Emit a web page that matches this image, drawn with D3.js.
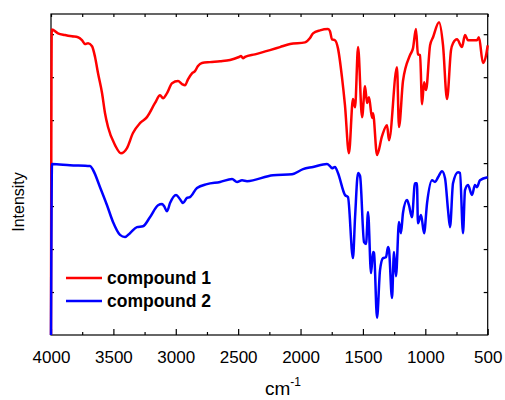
<!DOCTYPE html>
<html><head><meta charset="utf-8">
<script src="https://cdn.jsdelivr.net/npm/d3@7"></script>
<style>body{margin:0;background:#fff}svg{display:block}text{font-family:Arial,"Liberation Sans",sans-serif}</style>
</head><body><svg id="c" width="505" height="400"></svg>
<script>
// wavenumber (cm-1) and relative intensity (arbitrary units)
const compound1 = [
[4000,0],[3994,7.11],[3944,7.02],[3888,6.98],[3832,6.95],[3784,6.93],[3752,6.86],[3727,6.77],[3703,6.79],[3671,6.72],
[3647,6.47],[3623,6.09],[3591,5.63],[3567,5.16],[3543,4.84],[3487,4.42],[3439,4.23],[3391,4.35],[3343,4.70],[3287,4.93],
[3231,5.07],[3166,5.40],[3126,5.58],[3102,5.51],[3070,5.63],[3030,5.86],[2982,5.91],[2950,5.84],[2926,5.81],[2902,5.95],
[2870,6.09],[2846,6.14],[2822,6.26],[2790,6.33],[2726,6.35],[2645,6.37],[2565,6.40],[2493,6.47],[2477,6.49],[2461,6.44],
[2445,6.47],[2365,6.53],[2245,6.63],[2165,6.70],[2084,6.77],[1964,6.81],[1924,6.91],[1900,7.02],[1844,7.09],[1780,7.12],
[1764,7.07],[1748,6.88],[1724,6.86],[1700,6.67],[1668,6.00],[1644,5.35],[1612,4.23],[1580,5.49],[1563,5.30],[1539,6.70],
[1507,5.07],[1483,5.79],[1467,5.40],[1451,5.53],[1427,5.05],[1419,5.16],[1387,4.19],[1347,4.63],[1307,4.88],[1291,4.53],
[1227,6.23],[1211,4.84],[1179,5.91],[1123,6.51],[1099,6.67],[1075,7.12],[1059,6.53],[1042,6.51],[1026,5.37],[1010,5.88],
[994,5.70],[962,6.74],[938,6.93],[890,7.28],[858,6.74],[826,5.49],[794,6.63],[778,6.79],[746,6.88],[706,6.70],
[682,6.98],[658,6.86],[586,6.86],[570,6.93],[538,6.33],[513,6.51],[500,6.74]
];
const compound2 = [
[4000,0],[3992,3.98],[3848,3.95],[3687,3.93],[3663,3.84],[3607,3.44],[3551,3.02],[3503,2.63],[3447,2.33],[3407,2.28],
[3367,2.37],[3311,2.51],[3263,2.53],[3207,2.74],[3142,3.02],[3110,3.05],[3094,3.00],[3070,2.88],[3046,3.07],[2998,3.26],
[2966,3.16],[2942,3.07],[2910,3.19],[2886,3.21],[2830,3.42],[2750,3.51],[2645,3.56],[2549,3.63],[2509,3.56],[2469,3.60],
[2429,3.58],[2221,3.72],[2068,3.74],[1980,3.86],[1900,3.91],[1788,3.98],[1764,3.93],[1748,3.88],[1724,3.91],[1700,3.77],
[1644,3.26],[1620,3.21],[1580,1.79],[1563,2.74],[1539,3.77],[1523,3.70],[1491,2.16],[1475,2.12],[1459,2.86],[1435,1.44],
[1419,1.93],[1411,1.91],[1387,0.40],[1363,1.51],[1339,1.79],[1315,1.81],[1299,2.05],[1291,1.98],[1267,0.86],[1251,1.93],
[1235,1.37],[1211,2.63],[1195,2.37],[1179,2.84],[1147,3.14],[1131,3.02],[1107,2.74],[1083,3.53],[1067,3.53],[1059,2.60],
[1034,2.79],[1010,2.37],[986,3.07],[946,3.60],[922,3.56],[898,3.67],[866,3.81],[842,3.65],[818,2.91],[802,2.51],
[778,3.53],[738,3.79],[722,3.77],[698,2.37],[682,3.37],[658,3.49],[626,3.26],[602,3.49],[586,3.44],[562,3.60],[500,3.67]
];
const seriesNames = ["compound 1","compound 2"];
const seriesColors = ["#ff0000","#0000ff"];
const xTicks = [4000,3500,3000,2500,2000,1500,1000,500];
const xMinorTicks = [3750,3250,2750,2250,1750,1250,750];
const yTicks = [1,2,3,4,5,6,7];
const xLabel = "cm";
const xLabelSup = "-1";
const yLabel = "Intensity";

const svg = d3.select("#c");
const L=51, R=487.7, T=14, B=335;
const x = d3.scaleLinear().domain([4000,500]).range([L,R]);
const y = d3.scaleLinear().domain([0,7.47]).range([B,T]);

// frame
svg.append("rect").attr("x",L).attr("y",T).attr("width",R-L).attr("height",B-T)
 .attr("fill","none").attr("stroke","#000").attr("stroke-width",1.2);

// bottom axis: major ticks inward + labels
const axB = svg.append("g").attr("transform",`translate(0,${B})`)
 .call(d3.axisBottom(x).tickValues(xTicks).tickSize(-6).tickPadding(16).tickFormat(d3.format("d")));
axB.select(".domain").remove();
axB.selectAll("text").attr("font-size",17).attr("fill","#000").attr("font-family","Arial, 'Liberation Sans', sans-serif");
axB.selectAll("line").attr("stroke","#000").attr("stroke-width",1.2);
const axBm = svg.append("g").attr("transform",`translate(0,${B})`)
 .call(d3.axisBottom(x).tickValues(xMinorTicks).tickSize(-3).tickFormat(""));
axBm.select(".domain").remove();
axBm.selectAll("line").attr("stroke","#000").attr("stroke-width",1.2);

// top axis ticks
const axT = svg.append("g").attr("transform",`translate(0,${T})`)
 .call(d3.axisTop(x).tickValues(xTicks.concat(xMinorTicks)).tickSize(-3).tickFormat(""));
axT.select(".domain").remove();
axT.selectAll("line").attr("stroke","#000").attr("stroke-width",1.2);

// left & right ticks
const axL = svg.append("g").attr("transform",`translate(${L},0)`)
 .call(d3.axisLeft(y).tickValues(yTicks).tickSize(-3).tickFormat(""));
axL.select(".domain").remove();
axL.selectAll("line").attr("stroke","#000").attr("stroke-width",1.2);
const axR = svg.append("g").attr("transform",`translate(${R},0)`)
 .call(d3.axisRight(y).tickValues(yTicks).tickSize(-4).tickFormat(""));
axR.select(".domain").remove();
axR.selectAll("line").attr("stroke","#000").attr("stroke-width",1.2);

// lines
const line = d3.line().x(d=>x(d[0])).y(d=>y(d[1])).curve(d3.curveMonotoneX);
[compound1, compound2].forEach((data,i)=>{
  svg.append("path").datum(data).attr("d",line).attr("fill","none")
    .attr("stroke",seriesColors[i]).attr("stroke-width",2.5).attr("stroke-linejoin","round");
});

// legend
const lg = svg.append("g");
seriesNames.forEach((n,i)=>{
  const yy = 278 + i*23;
  lg.append("line").attr("x1",66).attr("x2",102).attr("y1",yy).attr("y2",yy)
    .attr("stroke",seriesColors[i]).attr("stroke-width",2.5);
  lg.append("text").attr("x",107).attr("y",yy).attr("dy","0.35em")
    .attr("font-size",17.5).attr("font-weight","bold").text(n);
});

// axis labels
const xl = svg.append("text").attr("x",265).attr("y",395).attr("font-size",19);
xl.append("tspan").text(xLabel);
xl.append("tspan").attr("font-size",12).attr("dy",-9).text(xLabelSup);
svg.append("text").attr("transform","translate(24,202) rotate(-90)")
  .attr("text-anchor","middle").attr("font-size",16).text(yLabel);
</script></body></html>
